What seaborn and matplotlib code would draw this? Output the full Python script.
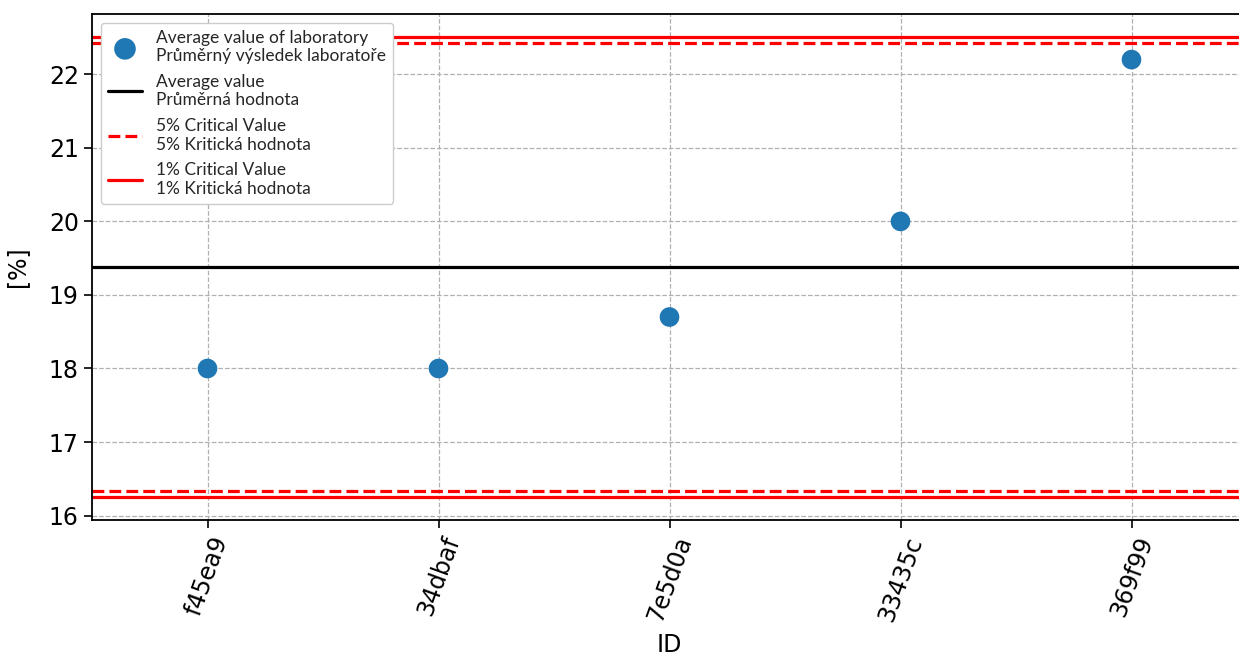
import matplotlib
matplotlib.use("Agg")
import matplotlib.pyplot as plt
import seaborn as sns
import pandas as pd

# Data
lab_ids = ["f45ea9", "34dbaf", "7e5d0a", "33435c", "369f99"]
lab_values = [18.0, 18.0, 18.7, 20.0, 22.2]
average_value = 19.38
crit_5 = [16.335, 22.425]
crit_1 = [16.25, 22.51]

df = pd.DataFrame({"ID": lab_ids, "value": lab_values})

sns.set_theme(style="ticks")
plt.rcParams['font.family'] = ['DejaVu Sans']

fig = plt.figure(figsize=(12.39, 6.6), dpi=100)
ax = fig.add_axes([92 / 1239, 140 / 660, 1155 / 1239, 506 / 660])

sns.scatterplot(data=df, x="ID", y="value", ax=ax, s=200, color="#1f77b4",
                edgecolor="none", zorder=3,
                label="Average value of laboratory\nPrůměrný výsledek laboratoře")

ax.axhline(average_value, color="black", lw=2.3, label="Average value\nPrůměrná hodnota")
ax.axhline(crit_5[0], color="red", lw=2.3, ls="--", label="5% Critical Value\n5% Kritická hodnota")
ax.axhline(crit_5[1], color="red", lw=2.3, ls="--")
ax.axhline(crit_1[0], color="red", lw=2.3, label="1% Critical Value\n1% Kritická hodnota")
ax.axhline(crit_1[1], color="red", lw=2.3)

ax.set_xlim(-0.5, 4.5)
ax.set_ylim(15.94, 22.82)
ax.grid(True, ls="--", color="#b0b0b0", lw=0.9)
ax.set_axisbelow(True)

for side in ax.spines.values():
    side.set_linewidth(1.3)
    side.set_color("black")

ax.tick_params(labelsize=17, length=6, width=1.2, colors="black")
plt.xticks(rotation=70)
for lbl in ax.get_xticklabels() + ax.get_yticklabels():
    lbl.set_fontfamily("DejaVu Sans")
ax.set_xlabel("ID", fontsize=17, color="black", labelpad=6)
ax.set_ylabel("[%]", fontsize=17, color="black", labelpad=14)

ax.legend(loc="upper left", frameon=True, edgecolor="#cccccc",
          framealpha=1, fancybox=True, borderpad=0.4, labelspacing=0.55,
          handlelength=2.0, markerscale=1.1,
          prop={"family": "Lato", "size": 12.5})

fig.savefig("out.png", dpi=100)
